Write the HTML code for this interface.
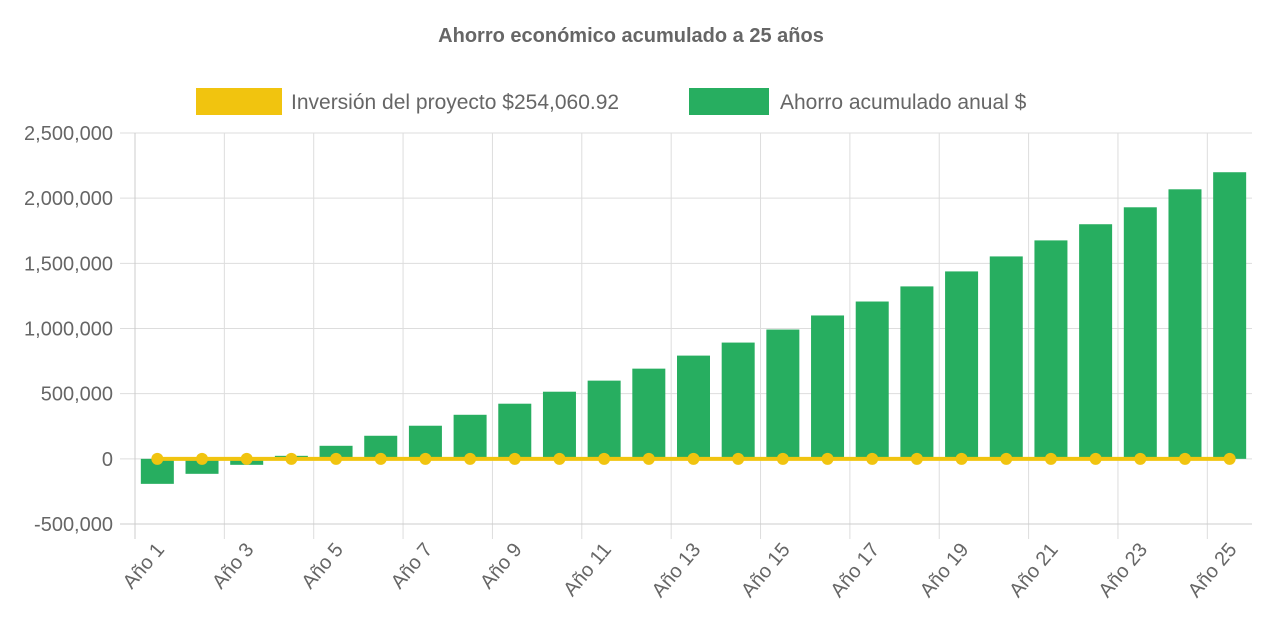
<!DOCTYPE html>
<html><head><meta charset="utf-8"><style>
body{margin:0;background:#fff;font-family:"Liberation Sans",Arial,sans-serif}
</style></head><body>
<svg width="1262" height="630" xmlns="http://www.w3.org/2000/svg" id="c" font-family="Liberation Sans, Arial, sans-serif"></svg>
<script>
const categories=[];for(let i=1;i<=25;i++)categories.push("Año "+i);
const savings=[-192000,-115000,-46000,23000,100000,177000,254000,338000,423000,515000,600000,692000,792000,892000,992000,1100000,1207000,1323000,1438000,1553000,1676000,1800000,1930000,2068000,2199000];
const investment=[0,0,0,0,0,0,0,0,0,0,0,0,0,0,0,0,0,0,0,0,0,0,0,0,0];
const yTicks=[2500000,2000000,1500000,1000000,500000,0,-500000];
const yTickLabels=["2,500,000","2,000,000","1,500,000","1,000,000","500,000","0","-500,000"];
const svg=document.getElementById('c');const NS="http://www.w3.org/2000/svg";
function el(t,a,p){const e=document.createElementNS(NS,t);for(const k in a)e.setAttribute(k,a[k]);(p||svg).appendChild(e);return e;}
const X0=135,X1=1252,Ytop=133,Ybot=524,vmax=2500000,vmin=-500000;
const y=v=>Ytop+(vmax-v)/(vmax-vmin)*(Ybot-Ytop);
const cw=(X1-X0)/categories.length;const x=i=>X0+cw*(i+0.5);
let t=el('text',{x:631,y:42,'text-anchor':'middle','font-size':20,'font-weight':'bold',fill:'#666'});t.textContent="Ahorro económico acumulado a 25 años";

// legend
let r=el('rect',{x:196,y:88,width:86,height:27,fill:'#f1c40f'});
t=el('text',{x:291,y:109,'font-size':21,fill:'#666'});t.textContent="Inversión del proyecto $254,060.92";
r=el('rect',{x:689,y:88,width:80,height:27,fill:'#27ae60'});
t=el('text',{x:780,y:109,'font-size':21,fill:'#666'});t.textContent="Ahorro acumulado anual $";
// grid
yTicks.forEach((v,i)=>{const l=el('line',{x1:X0-15,x2:X1,y1:y(v),y2:y(v),stroke:'#ddd','stroke-width':1});
const tx=el('text',{x:113,y:y(v)+7,'text-anchor':'end','font-size':20,fill:'#666'});tx.textContent=yTickLabels[i];});
for(let i=0;i<=categories.length;i++){if(i%2)continue;const gx=X0+cw*i;const l=el('line',{x1:gx,x2:gx,y1:Ytop,y2:Ybot+15,stroke:'#ddd','stroke-width':1});}
el('line',{x1:X0,x2:X0,y1:Ytop,y2:Ybot+15,stroke:'#ccc'});
el('line',{x1:X0-15,x2:X1,y1:Ybot,y2:Ybot,stroke:'#ccc'});
// bars
savings.forEach((v,i)=>{const y1=Math.min(y(v),y(0)),h=Math.abs(y(v)-y(0));const b=el('rect',{x:x(i)-16.5,y:y1,width:33,height:h,fill:'#27ae60'});});
// line
const pts=investment.map((v,i)=>x(i)+','+y(v)).join(' ');
const pl=el('polyline',{points:pts,fill:'none',stroke:'#f1c40f','stroke-width':4});
investment.forEach((v,i)=>{const c=el('circle',{cx:x(i),cy:y(v),r:6,fill:'#f1c40f'});});
// x labels
categories.forEach((c,i)=>{if(i%2)return;const lx=x(i)+8,ly=Ybot+26;const tx=el('text',{x:lx,y:ly,'text-anchor':'end','font-size':20,fill:'#666',transform:`rotate(-50 ${lx} ${ly})`});tx.textContent=c;});
</script>
</body></html>
